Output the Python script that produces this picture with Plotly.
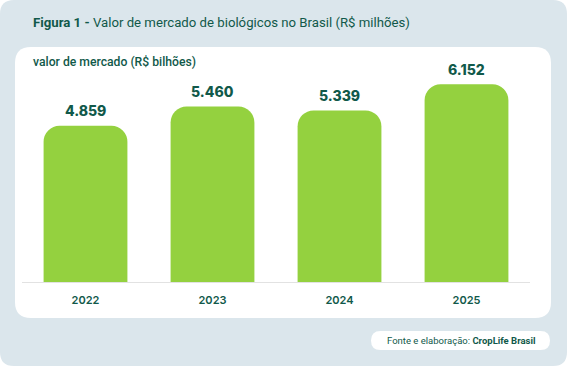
import plotly.graph_objects as go

years = ["2022", "2023", "2024", "2025"]
values = [4859, 5460, 5339, 6152]
value_labels = ["4.859", "5.460", "5.339", "6.152"]

W, H = 567, 366
L, R, T, B = 22, 37, 57, 84
PW, PH = W - L - R, H - T - B

BG = "#dbe6ec"
GREEN = "#94d13f"
DARK = "#11594a"
FONT = "Roboto"


def px(x):
    return (x - L) / PW


def py(y):
    return (H - B - y) / PH


def rrect(x0, y0, x1, y1, r):
    pts = [
        f"M {px(x0 + r)} {py(y0)}",
        f"L {px(x1 - r)} {py(y0)}",
        f"Q {px(x1)} {py(y0)} {px(x1)} {py(y0 + r)}",
        f"L {px(x1)} {py(y1 - r)}",
        f"Q {px(x1)} {py(y1)} {px(x1 - r)} {py(y1)}",
        f"L {px(x0 + r)} {py(y1)}",
        f"Q {px(x0)} {py(y1)} {px(x0)} {py(y1 - r)}",
        f"L {px(x0)} {py(y0 + r)}",
        f"Q {px(x0)} {py(y0)} {px(x0 + r)} {py(y0)}",
        "Z",
    ]
    return " ".join(pts)


fig = go.Figure(
    go.Bar(
        x=years,
        y=values,
        marker=dict(color=GREEN, cornerradius=16, line=dict(width=0)),
        cliponaxis=False,
        hoverinfo="skip",
    )
)

shapes = [
    dict(type="path", xref="paper", yref="paper", path=rrect(0, 0, W, H, 14),
         fillcolor=BG, line=dict(width=0), layer="below"),
    dict(type="path", xref="paper", yref="paper", path=rrect(15, 47, 551, 318, 16),
         fillcolor="white", line=dict(width=0), layer="below"),
    dict(type="path", xref="paper", yref="paper", path=rrect(371, 331, 550, 350, 9.5),
         fillcolor="white", line=dict(width=0), layer="below"),
]

annotations = [
    dict(text="<b>Figura 1 -</b> Valor de mercado de biológicos no Brasil (R$ milhões)",
         xref="paper", yref="paper", x=px(31), y=py(22), xanchor="left", yanchor="middle",
         showarrow=False, font=dict(family=FONT, size=13.2, color=DARK)),
    dict(text="valor de mercado (R$ bilhões)",
         xref="paper", yref="paper", x=px(31), y=py(62), xanchor="left", yanchor="middle",
         showarrow=False, font=dict(family=FONT, size=12.2, color=DARK, weight=500)),
    dict(text="Fonte e elaboração: <b>CropLife Brasil</b>",
         xref="paper", yref="paper", x=px(460.5), y=py(340.5), xanchor="center", yanchor="middle",
         showarrow=False, font=dict(family=FONT, size=9.5, color=DARK)),
]
for i, (v, lab) in enumerate(zip(values, value_labels)):
    annotations.append(dict(
        text=lab, x=i, y=v, xref="x", yref="y", yshift=15,
        xanchor="center", yanchor="middle", showarrow=False,
        font=dict(family="Inter", size=14, color=DARK, weight=800)))

fig.update_layout(
    width=W, height=H,
    margin=dict(l=L, r=R, t=T, b=B),
    paper_bgcolor="white",
    plot_bgcolor="rgba(0,0,0,0)",
    bargap=0.34,
    showlegend=False,
    shapes=shapes,
    annotations=annotations,
    xaxis=dict(type="category", range=[-0.5, len(years) - 0.5],
               showline=True, linecolor="#e2e2e2", linewidth=1, ticks="",
               tickfont=dict(family="Inter", size=11, color=DARK, weight=600),
               ticklabelstandoff=8,
               showgrid=False, fixedrange=True),
    yaxis=dict(range=[0, 7000], visible=False, showgrid=False, fixedrange=True),
)

fig.write_html("out.html", config={"displayModeBar": False},
               post_script="document.body.style.margin='0';")
